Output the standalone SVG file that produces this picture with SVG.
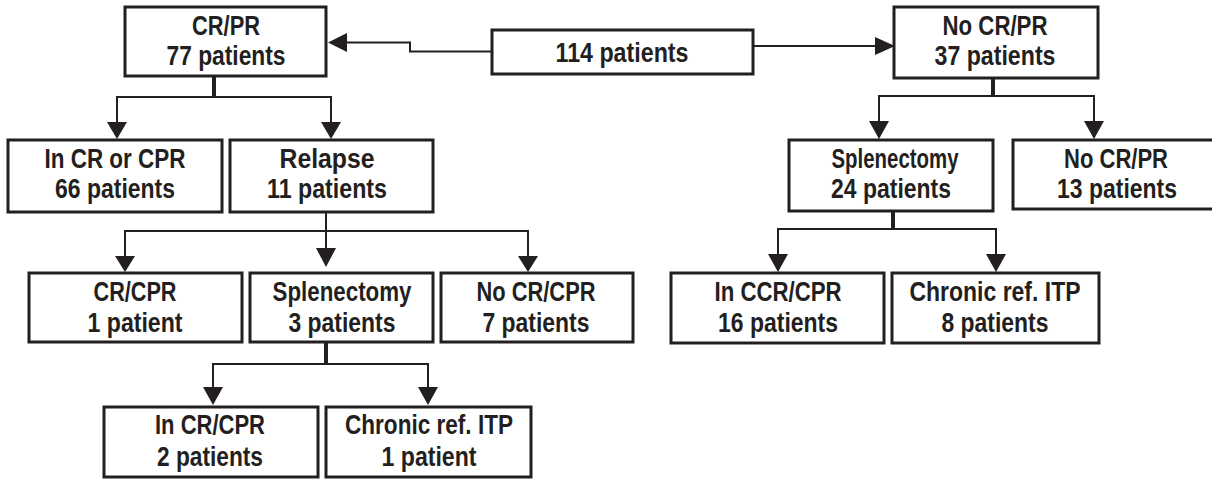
<svg xmlns="http://www.w3.org/2000/svg" width="1212" height="479" viewBox="0 0 1212 479">
<style>
.box{fill:#fff;stroke:#231f20;stroke-width:3}
.t{font-family:"Liberation Sans",Arial,sans-serif;font-weight:bold;font-size:27px;fill:#231f20;text-anchor:middle}
.ln{fill:none;stroke:#231f20;stroke-width:2}
.stem{fill:none;stroke:#231f20;stroke-width:4}
.ah{fill:#231f20}
</style>
<rect width="1212" height="479" fill="#fff"/>
<g id="connectors">
<polyline class="ln" points="492,51.5 410,51.5 410,42.5 345,42.5" stroke-width="1.6"/>
<polygon class="ah" points="328,42.5 347,33 347,52"/>
<line class="ln" x1="753" y1="46" x2="877" y2="46" stroke-width="2.5"/>
<polygon class="ah" points="895,46 875,37 875,55"/>
<line class="stem" x1="214" y1="76" x2="214" y2="97"/>
<polyline class="ln" points="117,124 117,97 331,97 331,124"/>
<polygon class="ah" points="117,139 107,122 127,122"/>
<polygon class="ah" points="331,139 321,122 341,122"/>
<line class="ln" x1="326" y1="212" x2="326" y2="250" stroke-width="2.5"/>
<polyline class="ln" points="125,258 125,231 528,231 528,258"/>
<polygon class="ah" points="326,267 316,248 336,248"/>
<polygon class="ah" points="125,272 115,256 135,256"/>
<polygon class="ah" points="528,272 518,256 538,256"/>
<line class="stem" x1="326" y1="343" x2="326" y2="365"/>
<polyline class="ln" points="213,390 213,364 428,364 428,390"/>
<polygon class="ah" points="213,405 203,387 223,387"/>
<polygon class="ah" points="428,405 418,387 438,387"/>
<line class="stem" x1="993" y1="79" x2="993" y2="96"/>
<polyline class="ln" points="879,124 879,96 1094,96 1094,124"/>
<polygon class="ah" points="879,139 869,121 889,121"/>
<polygon class="ah" points="1094,139 1084,121 1104,121"/>
<line class="stem" x1="893" y1="211" x2="893" y2="229"/>
<polyline class="ln" points="778,256 778,229 996,229 996,256"/>
<polygon class="ah" points="778,272 768,254 788,254"/>
<polygon class="ah" points="996,272 986,254 1006,254"/>
</g>
<g id="n_crpr"><rect class="box" x="125" y="7" width="201" height="69"/><text class="t" x="226" y="35" textLength="68" lengthAdjust="spacingAndGlyphs">CR/PR</text><text class="t" x="226" y="65" textLength="119" lengthAdjust="spacingAndGlyphs">77 patients</text></g>
<g id="n_114"><rect class="box" x="492" y="30" width="261" height="44"/><text class="t" x="622" y="62" textLength="133" lengthAdjust="spacingAndGlyphs">114 patients</text></g>
<g id="n_nocrpr"><rect class="box" x="894" y="7" width="204" height="71"/><text class="t" x="995" y="35" textLength="105" lengthAdjust="spacingAndGlyphs">No CR/PR</text><text class="t" x="995" y="65" textLength="121" lengthAdjust="spacingAndGlyphs">37 patients</text></g>
<g id="n_incr"><rect class="box" x="8" y="140" width="214" height="72"/><text class="t" x="115" y="168" textLength="141" lengthAdjust="spacingAndGlyphs">In CR or CPR</text><text class="t" x="115" y="198" textLength="120" lengthAdjust="spacingAndGlyphs">66 patients</text></g>
<g id="n_relapse"><rect class="box" x="230" y="140" width="203" height="72"/><text class="t" x="327" y="168" textLength="95" lengthAdjust="spacingAndGlyphs">Relapse</text><text class="t" x="327" y="198" textLength="120" lengthAdjust="spacingAndGlyphs">11 patients</text></g>
<g id="n_splen24"><rect class="box" x="789" y="140" width="204" height="71"/><text class="t" x="895" y="168" textLength="127" lengthAdjust="spacingAndGlyphs">Splenectomy</text><text class="t" x="891" y="198" textLength="120" lengthAdjust="spacingAndGlyphs">24 patients</text></g>
<g id="n_nocrpr13"><rect class="box" x="1013" y="140" width="210" height="69"/><text class="t" x="1116" y="168" textLength="104" lengthAdjust="spacingAndGlyphs">No CR/PR</text><text class="t" x="1117" y="198" textLength="120" lengthAdjust="spacingAndGlyphs">13 patients</text></g>
<g id="n_crcpr1"><rect class="box" x="29" y="273" width="213" height="69"/><text class="t" x="135" y="301" textLength="83" lengthAdjust="spacingAndGlyphs">CR/CPR</text><text class="t" x="135" y="332" textLength="95" lengthAdjust="spacingAndGlyphs">1 patient</text></g>
<g id="n_splen3"><rect class="box" x="250" y="273" width="183" height="69"/><text class="t" x="342" y="301" textLength="139" lengthAdjust="spacingAndGlyphs">Splenectomy</text><text class="t" x="342" y="332" textLength="107" lengthAdjust="spacingAndGlyphs">3 patients</text></g>
<g id="n_nocrcpr7"><rect class="box" x="441" y="273" width="192" height="69"/><text class="t" x="536" y="301" textLength="119" lengthAdjust="spacingAndGlyphs">No CR/CPR</text><text class="t" x="536" y="332" textLength="107" lengthAdjust="spacingAndGlyphs">7 patients</text></g>
<g id="n_inccr16"><rect class="box" x="671" y="273" width="213" height="70"/><text class="t" x="778" y="301" textLength="127" lengthAdjust="spacingAndGlyphs">In CCR/CPR</text><text class="t" x="778" y="332" textLength="120" lengthAdjust="spacingAndGlyphs">16 patients</text></g>
<g id="n_chronic8"><rect class="box" x="892" y="273" width="207" height="70"/><text class="t" x="995" y="301" textLength="171" lengthAdjust="spacingAndGlyphs">Chronic ref. ITP</text><text class="t" x="995" y="332" textLength="107" lengthAdjust="spacingAndGlyphs">8 patients</text></g>
<g id="n_incr2"><rect class="box" x="104" y="407" width="214" height="70"/><text class="t" x="210" y="434" textLength="110" lengthAdjust="spacingAndGlyphs">In CR/CPR</text><text class="t" x="210" y="466" textLength="106" lengthAdjust="spacingAndGlyphs">2 patients</text></g>
<g id="n_chronic1"><rect class="box" x="326" y="407" width="205" height="70"/><text class="t" x="429" y="434" textLength="168" lengthAdjust="spacingAndGlyphs">Chronic ref. ITP</text><text class="t" x="429" y="466" textLength="95" lengthAdjust="spacingAndGlyphs">1 patient</text></g>
</svg>
